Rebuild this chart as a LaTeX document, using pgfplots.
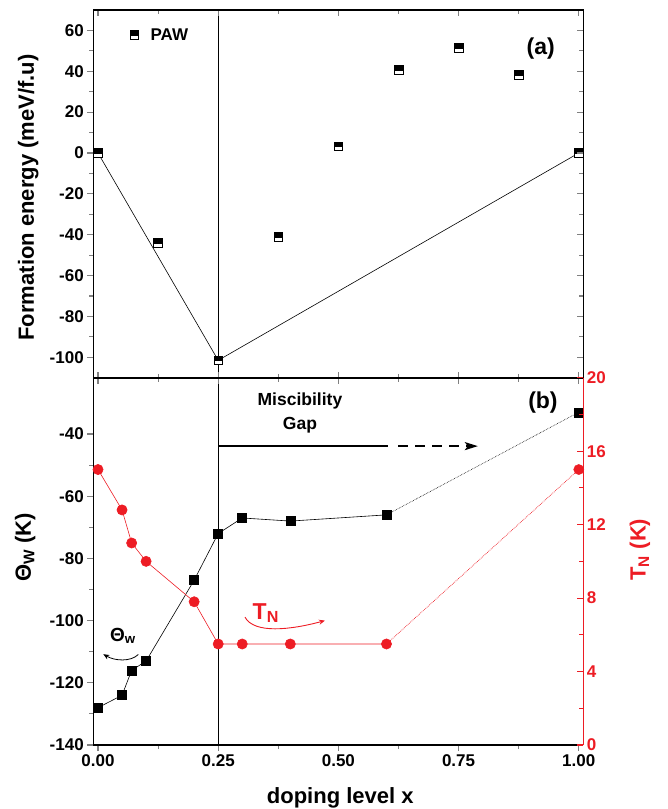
\documentclass[border=0pt]{standalone}
\usepackage{fontspec}
\setmainfont{Liberation Sans}
\usepackage{pgfplots}
\pgfplotsset{compat=1.18}
\usetikzlibrary{arrows.meta,plotmarks}
\definecolor{tnred}{RGB}{237,28,36}

% square, white below and black on top
\pgfdeclareplotmark{tophalfsq}{%
  \pgfpathrectangle{\pgfqpoint{-\pgfplotmarksize}{-\pgfplotmarksize}}{\pgfqpoint{2\pgfplotmarksize}{2\pgfplotmarksize}}%
  \pgfsetfillcolor{white}\pgfusepathqfillstroke
  \pgfpathrectangle{\pgfqpoint{-\pgfplotmarksize}{-0.1\pgfplotmarksize}}{\pgfqpoint{2\pgfplotmarksize}{1.1\pgfplotmarksize}}%
  \pgfsetfillcolor{black}\pgfusepathqfillstroke
}

\pgfplotsset{
  panel/.style={
    scale only axis, width=490pt,
    xmin=-0.0098, xmax=1.0094,
    clip=false,
    xtick={0,0.25,0.5,0.75,1},
    minor x tick num=1,
    major tick length=6pt, minor tick length=4pt,
    tick style={line width=1.1pt},
    tick label style={font=\fontsize{17}{20}\selectfont\bfseries},
    label style={font=\fontsize{22}{26}\selectfont\bfseries},
    /pgf/number format/assume math mode=true,
    axis line style={line width=1.6pt},
  },
}

\begin{document}
\begin{tikzpicture}
\useasboundingbox (0,0) rectangle (668pt,-809pt);

% (a) formation energy, ticks and labels on the left
\begin{axis}[panel, at={(93.3pt,-377.7pt)}, anchor=south west, height=367.7pt,
  ymin=-110, ymax=70, ytick={-100,-80,...,60}, minor y tick num=1,
  xtick=\empty, tick align=outside, ytick pos=left,
  ylabel={Formation energy (meV/f.u)},
  ylabel style={at={(axis description cs:-0.133,0.49)}, anchor=center},
  legend style={draw=none, fill=none, at={(axis description cs:0.068,0.932)}, anchor=west,
    font=\fontsize{17}{20}\selectfont\bfseries},
]
\draw[line width=0.8pt] (axis cs:0.25,-110) -- (axis cs:0.25,70);
\addplot[black, line width=0.6pt, forget plot] coordinates {(0,0) (0.25,-101.5) (1,0)};
\addplot[only marks, mark=tophalfsq, mark size=4.4pt,
  mark options={draw=black, line width=0.6pt}]
  coordinates {(0,0) (0.125,-44) (0.25,-101.5) (0.375,-41) (0.5,3.3)
               (0.625,40.7) (0.75,51.4) (0.875,38.4) (1,0)};
\addlegendentry{\hspace{10pt}PAW}
\node[font=\fontsize{23}{26}\selectfont\bfseries] at (axis cs:0.921,51.3) {(a)};
\end{axis}

% (a) ticks on the top, bottom and right, pointing in
\begin{axis}[panel, at={(93.3pt,-377.7pt)}, anchor=south west, height=367.7pt,
  ymin=-110, ymax=70, ytick={-100,-80,...,60}, minor y tick num=1,
  tick align=inside, ytick pos=right, xticklabels={}, yticklabels={},
]
\end{axis}

% (b) Weiss temperature, left axis
\begin{axis}[panel, at={(93.3pt,-377.7pt)}, anchor=north west, height=367.3pt,
  ymin=-140, ymax=-21.9, ytick={-140,-120,...,-40}, minor y tick num=1,
  axis x line*=bottom, axis y line*=left, tick align=outside,
  xticklabels={0.00,0.25,0.50,0.75,1.00},
  xlabel={doping level x},
  xlabel style={at={(axis description cs:0.504,-0.144)}, anchor=center},
  ylabel={Θ\textsubscript{W} (K)},
  ylabel style={at={(axis description cs:-0.139,0.538)}, anchor=center},
]
\draw[line width=0.8pt] (axis cs:0.25,-140) -- (axis cs:0.25,-21.9);
\addplot[black, densely dotted, line width=0.6pt] coordinates {(0.6,-66) (1,-33)};
\addplot[black, line width=0.6pt, mark=square*, mark size=4.5pt]
  coordinates {(0,-128) (0.05,-124) (0.07,-116) (0.1,-113) (0.2,-87)
               (0.25,-72) (0.3,-67) (0.4,-68) (0.6,-66)};
\addplot[only marks, black, mark=square*, mark size=4.5pt] coordinates {(1,-33)};
% miscibility gap
\node[align=center, font=\fontsize{17.5}{24}\selectfont\bfseries] at (axis cs:0.42,-33.2) {Miscibility\\Gap};
\draw[line width=2pt] (axis cs:0.25,-43.9) -- (axis cs:0.603,-43.9);
\draw[line width=2pt, dash pattern=on 10pt off 7pt, -{Stealth[length=13pt,width=8pt,inset=3pt]}]
  (axis cs:0.624,-43.9) -- (axis cs:0.79,-43.9);
\node[font=\fontsize{23}{26}\selectfont\bfseries] at (axis cs:0.9255,-30) {(b)};
% labels for the two curves
\node[font=\fontsize{19}{22}\selectfont\bfseries] at (axis cs:0.052,-104.9) {Θ\textsubscript{w}};
\draw[line width=0.8pt, -{Stealth[length=6pt,width=5pt]}]
  (axis cs:0.0838,-110.9) .. controls (axis cs:0.068,-113.3) and (axis cs:0.035,-113) .. (axis cs:0.011,-110.8);
\node[text=tnred, font=\fontsize{23}{26}\selectfont\bfseries] at (axis cs:0.349,-97.6) {T\textsubscript{N}};
\draw[tnred, line width=0.9pt, -{Stealth[length=6pt,width=5pt]}]
  (axis cs:0.3057,-98.9) .. controls (axis cs:0.325,-104.3) and (axis cs:0.40,-103) .. (axis cs:0.472,-100.0);
\end{axis}

% (b) top ticks
\begin{axis}[panel, at={(93.3pt,-377.7pt)}, anchor=north west, height=367.3pt,
  ymin=-140, ymax=-21.9,
  axis x line*=top, axis y line=none, tick align=inside, xticklabels={},
]
\end{axis}

% (b) Neel temperature, right axis
\begin{axis}[panel, at={(93.3pt,-377.7pt)}, anchor=north west, height=367.3pt,
  ymin=0, ymax=20, ytick={0,4,...,20}, minor y tick num=1,
  axis x line=none, axis y line*=right, tick align=inside,
  axis line style={tnred}, tick style={tnred},
  yticklabel style={text=tnred},
  ylabel={T\textsubscript{N} (K)},
  ylabel style={text=tnred, at={(axis description cs:1.1157,0.532)}, anchor=center},
]
\addplot[tnred, densely dotted, line width=0.7pt] coordinates {(0.6,5.5) (1,15)};
\addplot[tnred, line width=0.6pt, mark=*, mark size=5.1pt]
  coordinates {(0,15) (0.05,12.8) (0.07,11) (0.1,10) (0.2,7.8)
               (0.25,5.5) (0.3,5.5) (0.4,5.5) (0.6,5.5)};
\addplot[only marks, tnred, mark=*, mark size=5.1pt] coordinates {(1,15)};
\end{axis}
\end{tikzpicture}
\end{document}
